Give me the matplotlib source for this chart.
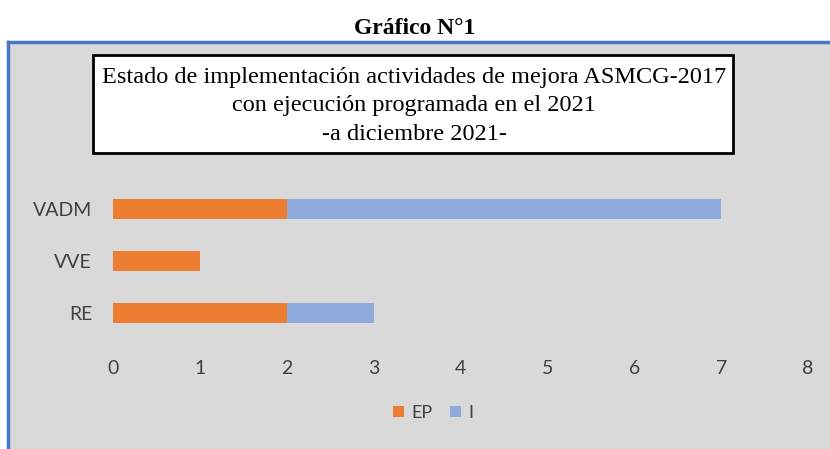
import matplotlib.pyplot as plt
from matplotlib.patches import Rectangle

categories = ["RE", "VVE", "VADM"]
ep = [2, 1, 2]
i_vals = [1, 0, 5]
xticks = [0, 1, 2, 3, 4, 5, 6, 7, 8]

W, H = 830, 449
fig = plt.figure(figsize=(W / 100, H / 100), dpi=100)
fig.patch.set_facecolor("white")

# gray chart area with blue top/left border
fig.patches.append(Rectangle((8 / W, 0), 1 - 8 / W, (H - 42) / H, transform=fig.transFigure,
                             facecolor="#d9d9d9", edgecolor="none", zorder=-2))
fig.add_artist(plt.Line2D([8 / W, 1], [1 - 42 / H, 1 - 42 / H], color="#4a78c8", lw=2.5))
fig.add_artist(plt.Line2D([8 / W, 8 / W], [0, 1 - 42 / H], color="#4a78c8", lw=2.5))

fig.text(415 / W, 1 - 28 / H, "Gráfico N°1", ha="center", va="center",
         fontsize=17, fontweight="bold", family="Liberation Serif")

# inner title box
fig.patches.append(Rectangle((93 / W, 1 - 153 / H), 640 / W, 98 / H, transform=fig.transFigure,
                             facecolor="white", edgecolor="black", lw=2, zorder=1))
fig.text(414 / W, 1 - 106 / H,
         "Estado de implementación actividades de mejora ASMCG-2017\n"
         "con ejecución programada en el 2021\n-a diciembre 2021-",
         ha="center", va="center", fontsize=17.5, family="Liberation Serif",
         linespacing=1.45, zorder=2)

ax = fig.add_axes([113 / W, 1 - 339 / H, 695 / W, 156 / H], zorder=3)
ax.set_facecolor("none")
ax.barh(categories, ep, height=0.4, color="#ed7d31", label="EP")
ax.barh(categories, i_vals, left=ep, height=0.4, color="#8faadc", label="I")
ax.set_xlim(0, 8)
ax.set_ylim(-0.5, 2.5)
ax.set_xticks(xticks)
for s in ax.spines.values():
    s.set_visible(False)
ax.tick_params(length=0, labelsize=14, colors="#404040")
ax.tick_params(axis="x", pad=15)
ax.tick_params(axis="y", pad=15)
for lab in ax.get_xticklabels() + ax.get_yticklabels():
    lab.set_family("Lato")

leg = fig.legend(loc="center", bbox_to_anchor=(433 / W, 1 - 413 / H), ncol=2, frameon=False,
                 handlelength=0.6, handleheight=0.6, handletextpad=0.4, columnspacing=1.0,
                 prop={"family": "Lato", "size": 13})
for t in leg.get_texts():
    t.set_color("#404040")

fig.savefig("out.png", dpi=100)
